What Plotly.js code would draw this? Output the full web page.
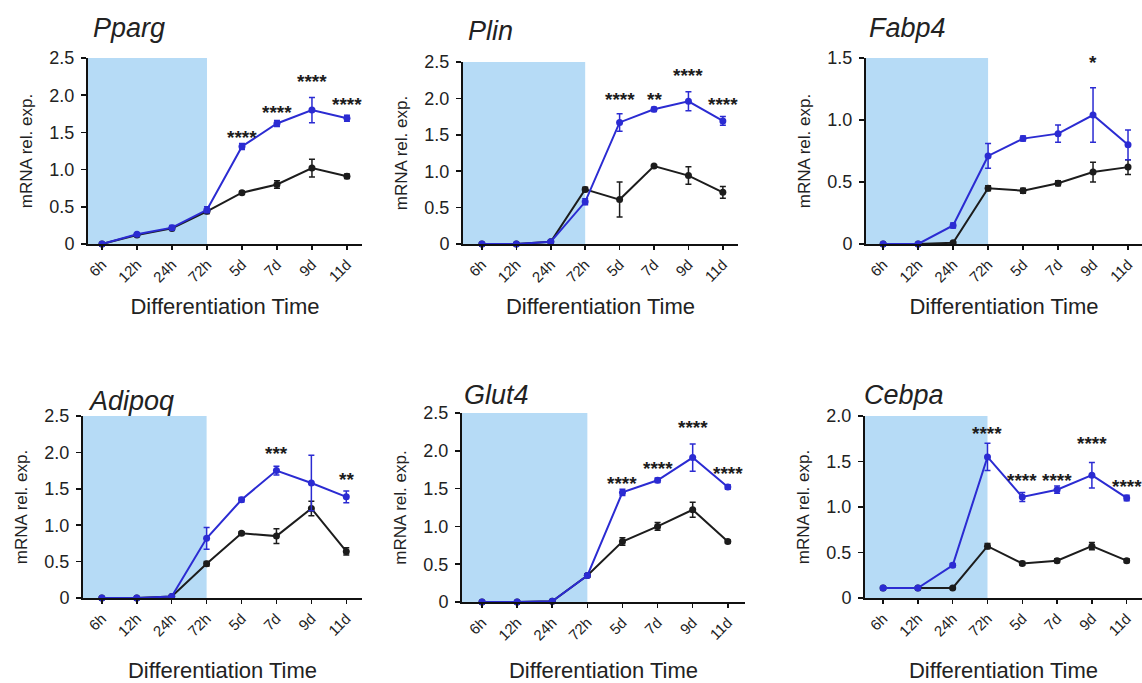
<!DOCTYPE html>
<html>
<head>
<meta charset="utf-8">
<script src="https://cdn.plot.ly/plotly-3.0.1.min.js"></script>
<style>html,body{margin:0;padding:0;background:#fff;}#chart{width:1142px;height:683px;}</style>
</head>
<body>
<div id="chart"></div>
<script>
// ---------- DATA ----------
const categories = ['6h', '12h', '24h', '72h', '5d', '7d', '9d', '11d'];
const geneNames = ['Pparg', 'Plin', 'Fabp4', 'Adipoq', 'Glut4', 'Cebpa'];

// blue series (treated) and black series (control), mean and SEM
const ppargBlue     = [0, 0.13, 0.22, 0.46, 1.31, 1.62, 1.80, 1.69];
const ppargBlueErr  = [0, 0.02, 0.03, 0.04, 0.04, 0.04, 0.17, 0.04];
const ppargBlack    = [0, 0.12, 0.21, 0.44, 0.69, 0.80, 1.02, 0.91];
const ppargBlackErr = [0, 0.01, 0.02, 0.03, 0.02, 0.05, 0.12, 0.03];

const plinBlue      = [0, 0, 0.03, 0.58, 1.67, 1.85, 1.96, 1.69];
const plinBlueErr   = [0, 0, 0.01, 0.04, 0.12, 0.03, 0.13, 0.06];
const plinBlack     = [0, 0, 0.03, 0.75, 0.61, 1.07, 0.94, 0.71];
const plinBlackErr  = [0, 0, 0.01, 0.03, 0.24, 0.02, 0.12, 0.08];

const fabp4Blue     = [0, 0, 0.15, 0.71, 0.85, 0.89, 1.04, 0.80];
const fabp4BlueErr  = [0, 0, 0.02, 0.10, 0.02, 0.07, 0.22, 0.12];
const fabp4Black    = [0, 0, 0.01, 0.45, 0.43, 0.49, 0.58, 0.62];
const fabp4BlackErr = [0, 0, 0.01, 0.02, 0.02, 0.02, 0.08, 0.06];

const adipoqBlue     = [0, 0, 0.02, 0.82, 1.35, 1.75, 1.58, 1.39];
const adipoqBlueErr  = [0, 0, 0.01, 0.15, 0.03, 0.06, 0.38, 0.08];
const adipoqBlack    = [0, 0, 0.02, 0.47, 0.89, 0.85, 1.23, 0.64];
const adipoqBlackErr = [0, 0, 0.01, 0.03, 0.02, 0.10, 0.10, 0.05];

const glut4Blue     = [0, 0, 0.01, 0.35, 1.45, 1.61, 1.91, 1.52];
const glut4BlueErr  = [0, 0, 0, 0.02, 0.04, 0.03, 0.18, 0.03];
const glut4Black    = [0, 0, 0.01, 0.35, 0.80, 1.00, 1.22, 0.80];
const glut4BlackErr = [0, 0, 0, 0.02, 0.05, 0.05, 0.10, 0.02];

const cebpaBlue     = [0.11, 0.11, 0.36, 1.55, 1.11, 1.19, 1.35, 1.10];
const cebpaBlueErr  = [0.01, 0.01, 0.02, 0.15, 0.05, 0.04, 0.14, 0.03];
const cebpaBlack    = [0.11, 0.11, 0.11, 0.57, 0.38, 0.41, 0.57, 0.41];
const cebpaBlackErr = [0.01, 0.01, 0.01, 0.03, 0.02, 0.02, 0.04, 0.02];

// significance marks: category, text, height
const ppargStarCats  = ['5d', '7d', '9d', '11d'];
const ppargStarText  = ['****', '****', '****', '****'];
const ppargStarY     = [1.50, 1.83, 2.25, 1.94];
const plinStarCats   = ['5d', '7d', '9d', '11d'];
const plinStarText   = ['****', '**', '****', '****'];
const plinStarY      = [2.05, 2.05, 2.38, 1.98];
const fabp4StarCats  = ['9d'];
const fabp4StarText  = ['*'];
const fabp4StarY     = [1.50];
const adipoqStarCats = ['7d', '11d'];
const adipoqStarText = ['***', '**'];
const adipoqStarY    = [2.05, 1.69];
const glut4StarCats  = ['5d', '7d', '9d', '11d'];
const glut4StarText  = ['****', '****', '****', '****'];
const glut4StarY     = [1.64, 1.83, 2.38, 1.77];
const cebpaStarCats  = ['72h', '5d', '7d', '9d', '11d'];
const cebpaStarText  = ['****', '****', '****', '****', '****'];
const cebpaStarY     = [1.86, 1.35, 1.35, 1.75, 1.28];

const yMax = [2.5, 2.5, 1.5, 2.5, 2.5, 2.0];
const yTickVals = [
  [0, 0.5, 1.0, 1.5, 2.0, 2.5],
  [0, 0.5, 1.0, 1.5, 2.0, 2.5],
  [0, 0.5, 1.0, 1.5],
  [0, 0.5, 1.0, 1.5, 2.0, 2.5],
  [0, 0.5, 1.0, 1.5, 2.0, 2.5],
  [0, 0.5, 1.0, 1.5, 2.0]
];
const yTickText = [
  ['0', '0.5', '1.0', '1.5', '2.0', '2.5'],
  ['0', '0.5', '1.0', '1.5', '2.0', '2.5'],
  ['0', '0.5', '1.0', '1.5'],
  ['0', '0.5', '1.0', '1.5', '2.0', '2.5'],
  ['0', '0.5', '1.0', '1.5', '2.0', '2.5'],
  ['0', '0.5', '1.0', '1.5', '2.0']
];

// ---------- LAYOUT GEOMETRY (pixels) ----------
const W = 1142, H = 683;
// [axisLeftPx, axisRightPx, yTopPx, yZeroPx, xRangeStart, xRangeEnd, titleXpx, titleYpx, xTitleStandoff]
const panels = [
  [88, 362, 58, 244, -0.40, 7.43, 91, 28, 14],
  [463, 738, 62, 244, -0.55, 7.44, 466, 31, 14],
  [866, 1142, 58, 244, -0.49, 7.40, 867, 28, 14],
  [83, 362, 416, 598, -0.54, 7.45, 86, 401, 24],
  [462, 745, 413, 602, -0.57, 7.49, 462, 395, 22],
  [865, 1142, 416, 598, -0.52, 7.44, 862, 395, 24]
];

const blueC = '#2b2bd2';
const blackC = '#1c1c1c';
const shadeC = '#b6dbf6';
const textC = '#222222';
const font = 'Liberation Sans, Arial, sans-serif';

const blues = [ppargBlue, plinBlue, fabp4Blue, adipoqBlue, glut4Blue, cebpaBlue];
const blueErrs = [ppargBlueErr, plinBlueErr, fabp4BlueErr, adipoqBlueErr, glut4BlueErr, cebpaBlueErr];
const blacks = [ppargBlack, plinBlack, fabp4Black, adipoqBlack, glut4Black, cebpaBlack];
const blackErrs = [ppargBlackErr, plinBlackErr, fabp4BlackErr, adipoqBlackErr, glut4BlackErr, cebpaBlackErr];
const starCats = [ppargStarCats, plinStarCats, fabp4StarCats, adipoqStarCats, glut4StarCats, cebpaStarCats];
const starTexts = [ppargStarText, plinStarText, fabp4StarText, adipoqStarText, glut4StarText, cebpaStarText];
const starYs = [ppargStarY, plinStarY, fabp4StarY, adipoqStarY, glut4StarY, cebpaStarY];

const xIdx = categories.map((c, i) => i);
const traces = [];
const layout = {
  width: W, height: H,
  margin: {l: 0, r: 0, t: 0, b: 0},
  paper_bgcolor: '#ffffff', plot_bgcolor: 'rgba(0,0,0,0)',
  showlegend: false,
  font: {family: font, color: textC},
  shapes: [], annotations: []
};

panels.forEach((p, i) => {
  const n = i + 1;
  const xa = 'x' + (n === 1 ? '' : n), ya = 'y' + (n === 1 ? '' : n);
  const xk = 'xaxis' + (n === 1 ? '' : n), yk = 'yaxis' + (n === 1 ? '' : n);
  const [xl, xr, yt, y0, rs, re, tx, ty, xso] = p;
  const errStyle = (arr, col) => ({type: 'data', array: arr, visible: true, color: col, thickness: 1.5, width: 3});
  traces.push({
    x: xIdx, y: blacks[i], xaxis: xa, yaxis: ya, type: 'scatter', mode: 'lines+markers',
    line: {color: blackC, width: 2}, marker: {color: blackC, size: 7},
    error_y: errStyle(blackErrs[i], blackC), cliponaxis: false, name: 'Control'
  });
  traces.push({
    x: xIdx, y: blues[i], xaxis: xa, yaxis: ya, type: 'scatter', mode: 'lines+markers',
    line: {color: blueC, width: 2}, marker: {color: blueC, size: 7},
    error_y: errStyle(blueErrs[i], blueC), cliponaxis: false, name: 'Treated'
  });
  layout[xk] = {
    domain: [xl / W, Math.min(1, xr / W)], anchor: ya,
    range: [rs, re], tickvals: xIdx, ticktext: categories, tickangle: -45,
    showline: true, linecolor: '#111', linewidth: 2, ticks: 'outside', ticklen: 4, tickwidth: 1.5, tickcolor: '#111',
    showgrid: false, zeroline: false, fixedrange: true,
    tickfont: {size: 15, family: font, color: textC},
    title: {text: 'Differentiation Time', font: {size: 22, family: font, color: textC}, standoff: xso}
  };
  layout[yk] = {
    domain: [(H - y0) / H, (H - yt) / H], anchor: xa,
    range: [0, yMax[i]], tickvals: yTickVals[i], ticktext: yTickText[i],
    showline: true, linecolor: '#111', linewidth: 2, ticks: 'outside', ticklen: 5, tickwidth: 1.5, tickcolor: '#111',
    ticklabelstandoff: 3,
    showgrid: false, zeroline: false, fixedrange: true,
    tickfont: {size: 18, family: font, color: textC},
    title: {text: 'mRNA rel. exp.', font: {size: 17, family: font, color: textC}, standoff: 12}
  };
  layout.shapes.push({
    type: 'rect', xref: xa, yref: ya, x0: rs, x1: 3, y0: 0, y1: yMax[i],
    fillcolor: shadeC, line: {width: 0}, layer: 'below'
  });
  layout.annotations.push({
    xref: 'paper', yref: 'paper', x: tx / W, y: 1 - ty / H, xanchor: 'left', yanchor: 'middle',
    text: '<i>' + geneNames[i] + '</i>', showarrow: false,
    font: {size: 27, family: font, color: textC}
  });
  starCats[i].forEach((c, k) => {
    layout.annotations.push({
      xref: xa, yref: ya, x: categories.indexOf(c), y: starYs[i][k], yshift: -5,
      xanchor: 'center', yanchor: 'middle', text: '<b>' + starTexts[i][k] + '</b>', showarrow: false,
      font: {size: 19, family: font, color: '#1c1c1c'}
    });
  });
});

Plotly.newPlot('chart', traces, layout, {displayModeBar: false, staticPlot: true});
</script>
</body>
</html>
